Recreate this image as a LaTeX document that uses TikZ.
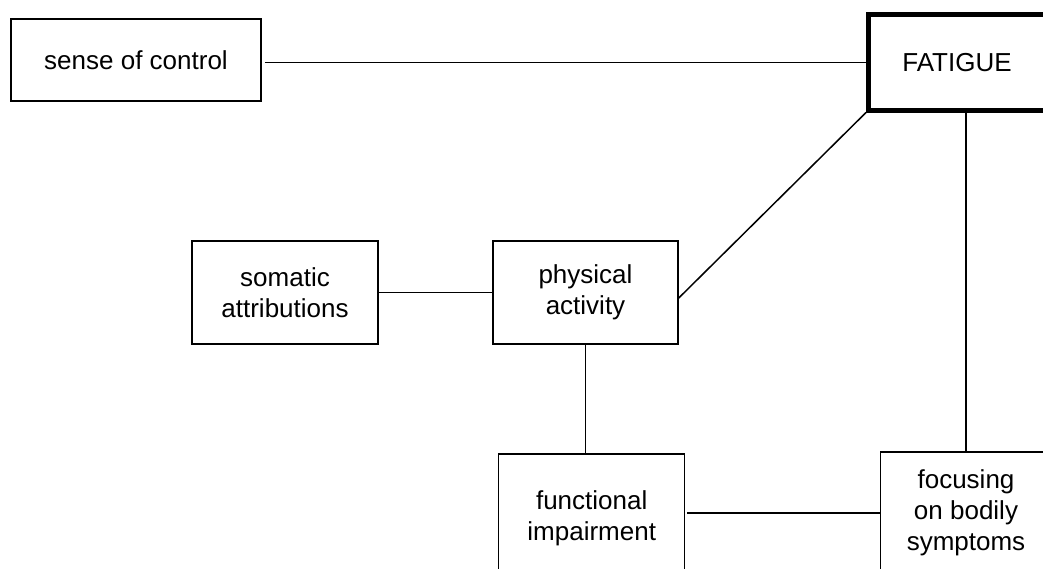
\documentclass[tikz,border=0pt]{standalone}
\usepackage{fontspec}
\setmainfont{Liberation Sans}
\begin{document}
\begin{tikzpicture}[x=1pt,y=-1pt,
  box/.style={draw=black,line width=1.5pt,rectangle,inner sep=0pt,align=center,
    font=\fontsize{26}{31}\selectfont},
  link/.style={draw=black,line width=1.5pt}]
\useasboundingbox (0,0) rectangle (1043,568);
\begin{scope}
\clip (0,0) rectangle (1043,568);
\node[box,minimum width=250pt,minimum height=82pt] (soc) at (136,60) {sense of control};
\node[box,line width=5pt,minimum width=177pt,minimum height=95.5pt] (fat) at (957,62.25) {FATIGUE};
\node[box,minimum width=186pt,minimum height=103pt] (som) at (285,292.5) {somatic\\attributions};
\node[box,minimum width=185pt,minimum height=103pt] (phy) at (585.5,292.5) {physical\\activity};
\node[box,minimum width=186pt,minimum height=128pt] (fun) at (591.7,518) {functional\\impairment};
\node[box,minimum width=170.6pt,minimum height=122pt] (foc) at (966,513) {focusing\\on bodily\\symptoms};
\draw[link] ([xshift=3pt]soc.east |- fat.west) -- (fat.west);
\draw[link] ([yshift=-5.5pt]phy.east) -- (fat.south west);
\draw[link] (som.east) -- (phy.west);
\draw[link] (phy.south) -- (phy.south |- fun.north);
\draw[link] (fat.south -| foc.north) -- (foc.north);
\draw[link] ([xshift=2pt]fun.east |- foc.west) -- (foc.west);
\end{scope}
\end{tikzpicture}
\end{document}
